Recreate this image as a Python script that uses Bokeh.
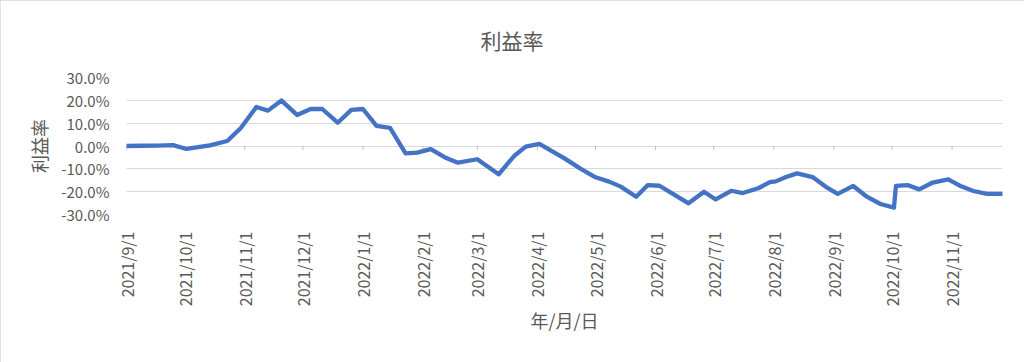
import math
import pandas as pd
from bokeh.plotting import figure
from bokeh.models import (Range1d, FixedTicker, NumeralTickFormatter, CustomJSTickFormatter,
                          Title, ColumnDataSource)
from bokeh.embed import file_html
from bokeh.resources import INLINE

# ---- data ----
title_text = "利益率"
y_label = "利益率"
x_label = "年/月/日"

dates = [
    "2021-09-01", "2021-09-09", "2021-09-17", "2021-09-25", "2021-10-02", "2021-10-14",
    "2021-10-23", "2021-10-30", "2021-11-07", "2021-11-13", "2021-11-20", "2021-11-28",
    "2021-12-05", "2021-12-11", "2021-12-19", "2021-12-26", "2022-01-01", "2022-01-08",
    "2022-01-15", "2022-01-23", "2022-01-29", "2022-02-05", "2022-02-13", "2022-02-19",
    "2022-03-01", "2022-03-12", "2022-03-20", "2022-03-26", "2022-04-02", "2022-04-15",
    "2022-04-23", "2022-05-01", "2022-05-08", "2022-05-14", "2022-05-22", "2022-05-28",
    "2022-06-03", "2022-06-11", "2022-06-18", "2022-06-26", "2022-07-02", "2022-07-10",
    "2022-07-16", "2022-07-24", "2022-07-30", "2022-08-02", "2022-08-07", "2022-08-13",
    "2022-08-21", "2022-08-28", "2022-09-03", "2022-09-11", "2022-09-18", "2022-09-25",
    "2022-10-02", "2022-10-03", "2022-10-09", "2022-10-15", "2022-10-22", "2022-10-30",
    "2022-11-05", "2022-11-12", "2022-11-19", "2022-11-27",
]
profit_pct = [
    0.0, 0.1, 0.2, 0.4, -1.3, 0.3,
    2.2, 7.9, 17.1, 15.5, 19.9, 13.6,
    16.2, 16.2, 10.2, 15.8, 16.2, 8.8,
    7.9, -3.2, -2.9, -1.4, -5.3, -7.3,
    -5.8, -12.4, -4.4, -0.3, 0.9, -5.4,
    -9.8, -13.7, -15.6, -17.8, -22.2, -17.1,
    -17.4, -21.5, -25.1, -20.0, -23.4, -19.6,
    -20.6, -18.5, -15.8, -15.5, -13.7, -12.0,
    -13.6, -18.0, -21.0, -17.5, -22.2, -25.4,
    -27.0, -17.5, -17.1, -19.0, -16.0, -14.6,
    -17.4, -19.7, -21.0, -21.0,
]
month_ticks = [
    "2021-09-01", "2021-10-01", "2021-11-01", "2021-12-01", "2022-01-01",
    "2022-02-01", "2022-03-01", "2022-04-01", "2022-05-01", "2022-06-01",
    "2022-07-01", "2022-08-01", "2022-09-01", "2022-10-01", "2022-11-01",
]
y_ticks = [-0.3, -0.2, -0.1, 0.0, 0.1, 0.2, 0.3]

# ---- styling ----
FONT = "Noto Sans CJK JP"
TXT = "#595959"
GRID = "#D9D9D9"
BLUE = "#4472C4"

x = pd.to_datetime(dates)
y = [v / 100.0 for v in profit_pct]
src = ColumnDataSource(data=dict(x=x, y=y))

W, H = 1024, 362
FL, FR, FT, FB = 126, 22, 77, 148   # frame borders
p = figure(width=W, height=H, x_axis_type="datetime", output_backend="svg",
           toolbar_location=None,
           x_range=Range1d(x[0], x[-1]), y_range=Range1d(-0.3, 0.3),
           min_border_left=FL, min_border_right=FR,
           min_border_top=FT, min_border_bottom=FB)
p.outline_line_color = None
p.background_fill_color = "white"
p.border_fill_color = "white"
p.styles = {"outline": "2px solid #D9D9D9", "outline-offset": "-2px"}

# title, centred over the whole chart rather than the plot area
p.add_layout(Title(text=title_text, align="left", offset=354,
                   text_font=FONT, text_font_size="21px", text_color=TXT,
                   text_font_style="normal", standoff=45), "above")

# grid
p.xgrid.grid_line_color = None
p.ygrid.grid_line_color = GRID
p.ygrid.grid_line_width = 1

# y axis
p.yaxis.ticker = FixedTicker(ticks=y_ticks)
p.yaxis.formatter = NumeralTickFormatter(format="0.0%")
p.yaxis.axis_line_color = None
p.yaxis.major_tick_line_color = None
p.yaxis.minor_tick_line_color = None
p.yaxis.major_label_standoff = 11
p.yaxis.major_label_text_font = FONT
p.yaxis.major_label_text_font_size = "15px"
p.yaxis.major_label_text_color = TXT
p.yaxis.axis_label = y_label
p.yaxis.axis_label_text_font = FONT
p.yaxis.axis_label_text_font_size = "18px"
p.yaxis.axis_label_text_font_style = "normal"
p.yaxis.axis_label_text_color = TXT
p.yaxis.axis_label_standoff = 6

# x axis
tick_ms = [pd.Timestamp(d).value // 10**6 for d in month_ticks]
p.xaxis.ticker = FixedTicker(ticks=tick_ms)
p.xaxis.formatter = CustomJSTickFormatter(code="""
const d = new Date(tick);
return d.getUTCFullYear() + "/" + (d.getUTCMonth() + 1) + "/" + d.getUTCDate();
""")
p.xaxis.major_label_orientation = math.pi / 2
p.xaxis.axis_line_color = None
p.xaxis.major_tick_line_color = None
p.xaxis.minor_tick_line_color = None
p.xaxis.major_label_standoff = 11
p.xaxis.major_label_text_font = FONT
p.xaxis.major_label_text_font_size = "16px"
p.xaxis.major_label_text_color = TXT
p.xaxis.axis_label = x_label
p.xaxis.axis_label_text_font = FONT
p.xaxis.axis_label_text_font_size = "18px"
p.xaxis.axis_label_text_font_style = "normal"
p.xaxis.axis_label_text_color = TXT
p.xaxis.axis_label_standoff = -2

# zero-line tick marks (horizontal axis crosses at 0)
tick_dates = pd.to_datetime(month_ticks)
p.segment(x0=tick_dates, y0=[0.0] * len(tick_dates), x1=tick_dates,
          y1=[-0.018] * len(tick_dates), line_color="#BFBFBF", line_width=1)

# data line
p.line("x", "y", source=src, line_color=BLUE, line_width=4.3, line_join="round", line_cap="round")

open("out.html", "w").write(file_html(p, INLINE))
